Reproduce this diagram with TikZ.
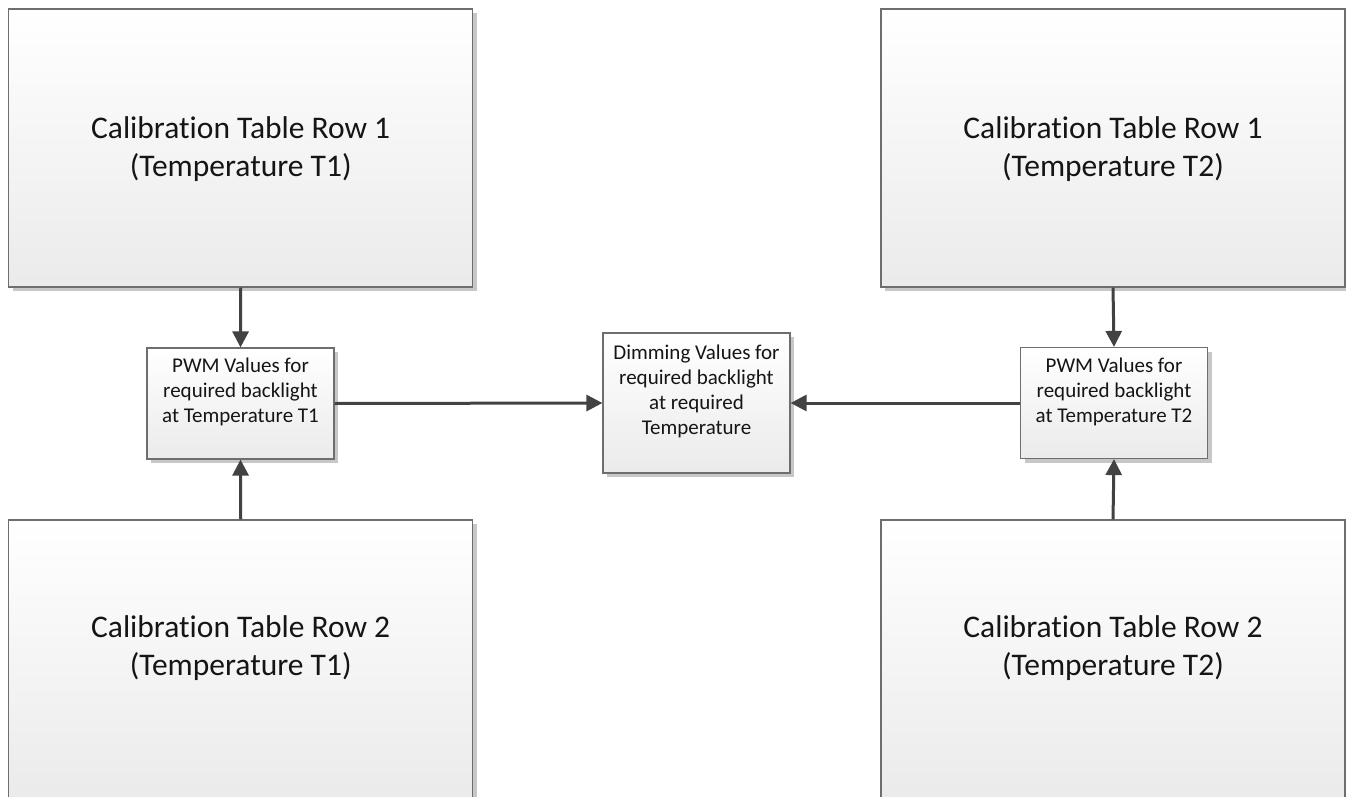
\documentclass[tikz,border=0pt]{standalone}
\usepackage{fontspec}
\setmainfont{Carlito}[Ligatures=NoCommon]
\usetikzlibrary{arrows.meta,shadows}
\definecolor{edge}{HTML}{6E6E6E}
\definecolor{wire}{HTML}{424242}
\definecolor{ink}{HTML}{151515}
\tikzset{
  panel/.style={draw=edge, line width=1.2pt, top color=white, bottom color=black!8,
    inner sep=0pt, drop shadow={shadow xshift=4pt, shadow yshift=-4pt, fill=black!22, opacity=1}},
  bigbox/.style={panel, minimum width=464pt, minimum height=278pt},
  smallbox/.style={panel, minimum width=187pt, minimum height=111pt},
  bigtext/.style={text=ink, align=center, font=\fontsize{31.5}{38}\selectfont},
  smalltext/.style={text=ink, align=center, font=\fontsize{21}{25}\selectfont},
  flow/.style={draw=wire, line width=3pt, -{Triangle[length=16pt,width=16pt]}}
}
\begin{document}
\begin{tikzpicture}[x=1pt,y=-1pt]
\useasboundingbox (0,0) rectangle (1346,797);

% calibration table rows
\node[bigbox] (r1a) at (240.75,148) {};
\node[bigbox] (r2a) at (240.75,659) {};
\node[bigbox] (r1b) at (1113,148) {};
\node[bigbox] (r2b) at (1113,659) {};
\node[bigtext] (r1at) at (240.75,149) {Calibration Table Row 1\\(Temperature T1)};
\node[bigtext] (r2at) at (240.75,648) {Calibration Table Row 2\\(Temperature T1)};
\node[bigtext] (r1bt) at (1113,149) {Calibration Table Row 1\\(Temperature T2)};
\node[bigtext] (r2bt) at (1113,648) {Calibration Table Row 2\\(Temperature T2)};

% intermediate and result boxes
\node[smallbox] (pwm1) at (240.5,403.5) {};
\node[smallbox] (pwm2) at (1114,403) {};
\node[smallbox, minimum height=140pt] (dim) at (696.5,403) {};
\node[smalltext] (pwm1t) at (240.5,392) {PWM Values for\\required backlight\\at Temperature T1};
\node[smalltext] (pwm2t) at (1114,392) {PWM Values for\\required backlight\\at Temperature T2};
\node[smalltext] (dimt) at (696.5,391) {Dimming Values for\\required backlight\\at required\\Temperature};

% connectors
\draw[flow] (r1a.south) -- (pwm1.north);
\draw[flow] (r2a.north) -- (pwm1.south);
\draw[flow] (r1b.south) -- (pwm2.north);
\draw[flow] (r2b.north) -- (pwm2.south);
\draw[flow] (pwm1.east) -- (dim.west);
\draw[flow] (pwm2.west) -- (dim.east);
\end{tikzpicture}
\end{document}
